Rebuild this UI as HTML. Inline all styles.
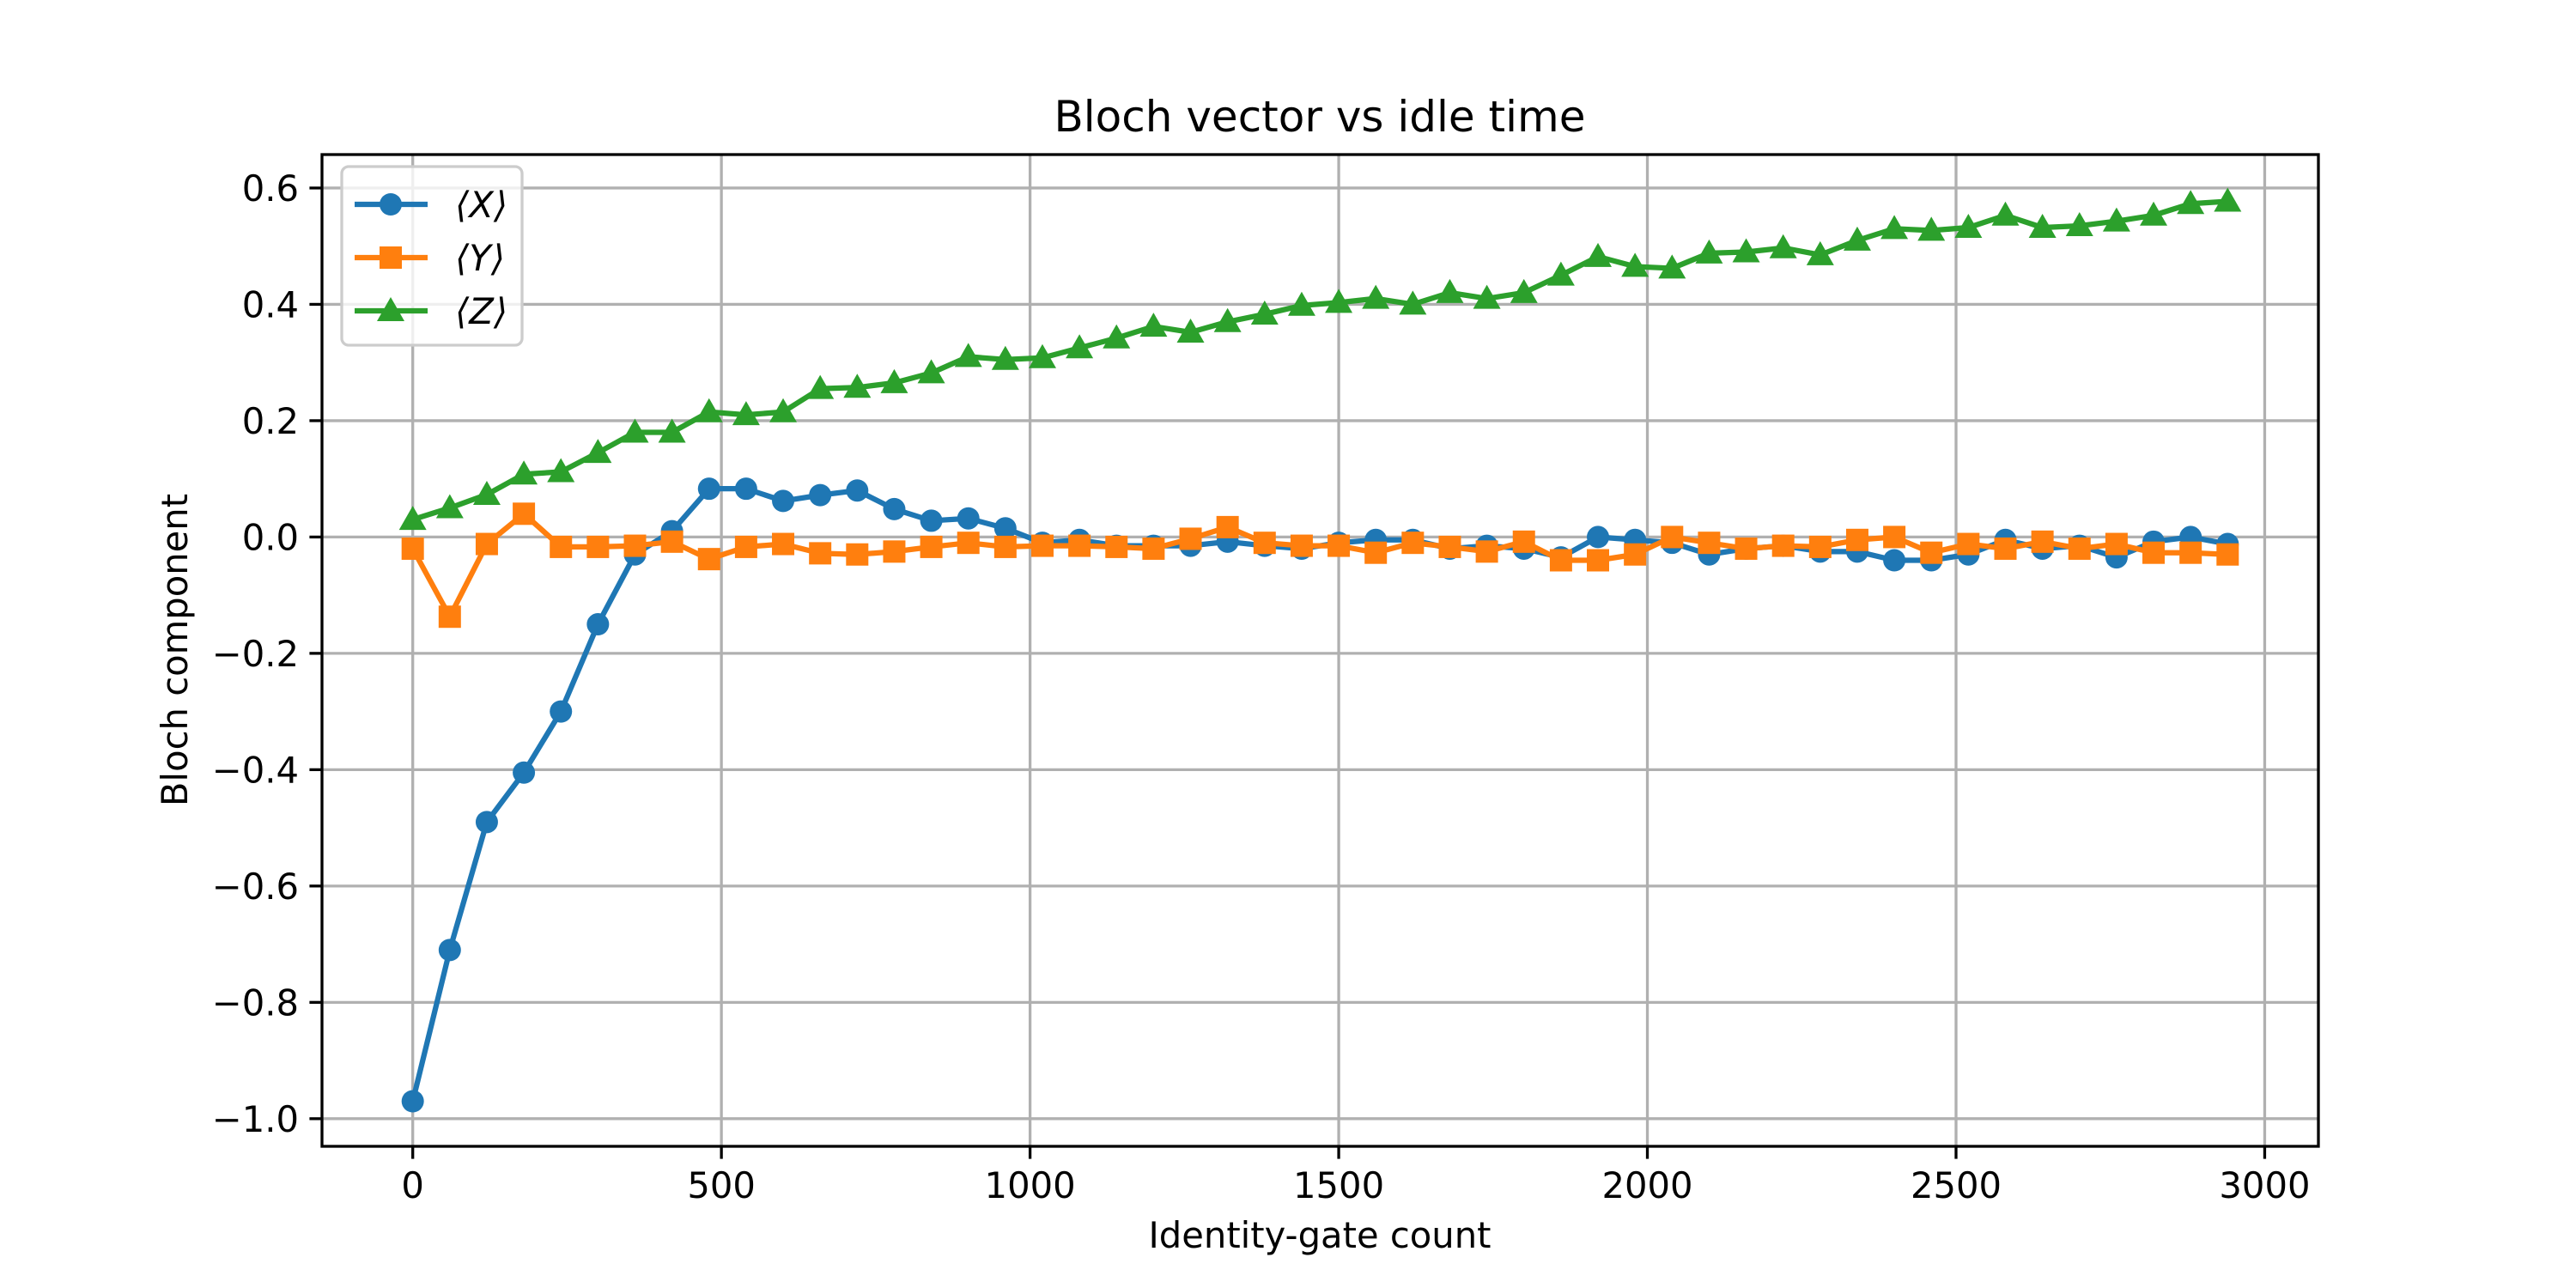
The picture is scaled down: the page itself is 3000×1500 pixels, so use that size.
<!DOCTYPE html>
<html><head><meta charset="utf-8"><style>
html,body{margin:0;padding:0;background:#fff}
svg{display:block;font-family:"DejaVu Sans","Liberation Sans",sans-serif}
</style></head><body>
<svg id="chart" width="3000" height="1500" viewBox="0 0 3000 1500" xmlns="http://www.w3.org/2000/svg">
<rect width="3000" height="1500" fill="#fff"/>
<g id="grid"></g>
<g id="series"></g>
<rect x="375" y="180" width="2325" height="1155" fill="none" stroke="#000" stroke-width="3.3"/>
<g id="ticks"></g>
<text x="1537" y="153" font-size="50" text-anchor="middle">Bloch vector vs idle time</text>
<text x="1537" y="1453" font-size="41.7" text-anchor="middle">Identity-gate count</text>
<text x="218" y="757" font-size="41.7" text-anchor="middle" transform="rotate(-90 218 757)">Bloch component</text>
<g id="legend"></g>
</svg>
<script>
const xs = [0,60,120,180,240,300,360,420,480,540,600,660,720,780,840,900,960,1020,1080,1140,1200,1260,1320,1380,1440,1500,1560,1620,1680,1740,1800,1860,1920,1980,2040,2100,2160,2220,2280,2340,2400,2460,2520,2580,2640,2700,2760,2820,2880,2940];
const seriesX = [-0.97,-0.71,-0.49,-0.405,-0.30,-0.15,-0.03,0.01,0.083,0.083,0.062,0.072,0.08,0.048,0.028,0.032,0.015,-0.01,-0.005,-0.015,-0.015,-0.015,-0.008,-0.015,-0.02,-0.01,-0.005,-0.005,-0.02,-0.015,-0.02,-0.035,0.0,-0.005,-0.01,-0.03,-0.02,-0.015,-0.025,-0.025,-0.04,-0.04,-0.03,-0.005,-0.02,-0.015,-0.035,-0.008,0.0,-0.012];
const seriesY = [-0.02,-0.137,-0.012,0.04,-0.017,-0.017,-0.015,-0.008,-0.038,-0.017,-0.012,-0.028,-0.03,-0.025,-0.017,-0.01,-0.017,-0.015,-0.015,-0.017,-0.02,-0.003,0.017,-0.01,-0.015,-0.015,-0.027,-0.01,-0.017,-0.025,-0.008,-0.04,-0.04,-0.03,0.0,-0.01,-0.02,-0.015,-0.017,-0.005,0.0,-0.027,-0.012,-0.02,-0.008,-0.02,-0.012,-0.027,-0.027,-0.03];
const seriesZ = [0.03,0.05,0.073,0.108,0.112,0.145,0.18,0.18,0.215,0.21,0.215,0.255,0.257,0.265,0.282,0.31,0.305,0.308,0.325,0.342,0.362,0.352,0.37,0.383,0.398,0.403,0.41,0.4,0.42,0.41,0.42,0.45,0.482,0.465,0.462,0.488,0.49,0.497,0.485,0.51,0.53,0.527,0.532,0.553,0.532,0.535,0.543,0.553,0.573,0.577];
const xTicks = [0,500,1000,1500,2000,2500,3000];
const yTicks = [-1.0,-0.8,-0.6,-0.4,-0.2,0.0,0.2,0.4,0.6];
const legendLabels = ["⟨X⟩","⟨Y⟩","⟨Z⟩"];

const NS="http://www.w3.org/2000/svg";
const L=375,R=2700,T=180,B=1335;
const xmin=-147,xmax=3087,ymin=-1.0475,ymax=0.6575;
const sx=v=>L+(v-xmin)/(xmax-xmin)*(R-L);
const sy=v=>B-(v-ymin)/(ymax-ymin)*(B-T);
function mk(tag,attrs,parent){const e=document.createElementNS(NS,tag);for(const k in attrs)e.setAttribute(k,attrs[k]);parent.appendChild(e);return e;}
const grid=document.getElementById('grid'),ticks=document.getElementById('ticks'),ser=document.getElementById('series'),leg=document.getElementById('legend');
xTicks.forEach(t=>{const x=sx(t);
 let g=mk('line',{x1:x,x2:x,y1:T,y2:B,stroke:'#b0b0b0','stroke-width':3.3},grid);
 
 let k=mk('line',{x1:x,x2:x,y1:B,y2:B+14.6,stroke:'#000','stroke-width':3.3},ticks);
 
 let tx=mk('text',{x:x,y:B+60,'font-size':41.7,'text-anchor':'middle'},ticks);tx.textContent=String(t);
 
});
yTicks.forEach(t=>{const y=sy(t);
 let g=mk('line',{x1:L,x2:R,y1:y,y2:y,stroke:'#b0b0b0','stroke-width':3.3},grid);
 
 let k=mk('line',{x1:L-14.6,x2:L,y1:y,y2:y,stroke:'#000','stroke-width':3.3},ticks);
 
 let tx=mk('text',{x:L-27,y:y+15,'font-size':41.7,'text-anchor':'end'},ticks);tx.textContent=t.toFixed(1).replace('-','−');
 
});
const colors=['#1f77b4','#ff7f0e','#2ca02c'];
function marker(kind,x,y,c,parent){let m;
 if(kind===0)m=mk('circle',{cx:x,cy:y,r:13,fill:c},parent);
 else if(kind===1)m=mk('rect',{x:x-13,y:y-13,width:26,height:26,fill:c},parent);
 else m=mk('polygon',{points:`${x},${y-16} ${x+16},${y+12} ${x-16},${y+12}`,fill:c},parent);
 return m;}
[seriesX,seriesY,seriesZ].forEach((s,i)=>{
 const g=mk('g',{},ser);
 const p=mk('polyline',{points:s.map((v,j)=>sx(xs[j])+','+sy(v)).join(' '),fill:'none',stroke:colors[i],'stroke-width':6.25,'stroke-linejoin':'round'},g);
 
 s.forEach((v,j)=>{const m=marker(i,sx(xs[j]),sy(v),colors[i],g);
  });
});
const box=mk('rect',{x:398,y:194,width:210,height:208,rx:8,fill:'#fff','fill-opacity':0.8,stroke:'#cccccc','stroke-width':3.3},leg);

legendLabels.forEach((lab,i)=>{const y=238+i*62;
 const g=mk('g',{},leg);
 mk('line',{x1:413,x2:498,y1:y,y2:y,stroke:colors[i],'stroke-width':6.25},g);
 marker(i,455,y,colors[i],g);
 const t=mk('text',{x:530,y:y+15,'font-size':41.7,'font-style':'italic'},g);t.textContent=lab;
});
</script>
</body></html>
